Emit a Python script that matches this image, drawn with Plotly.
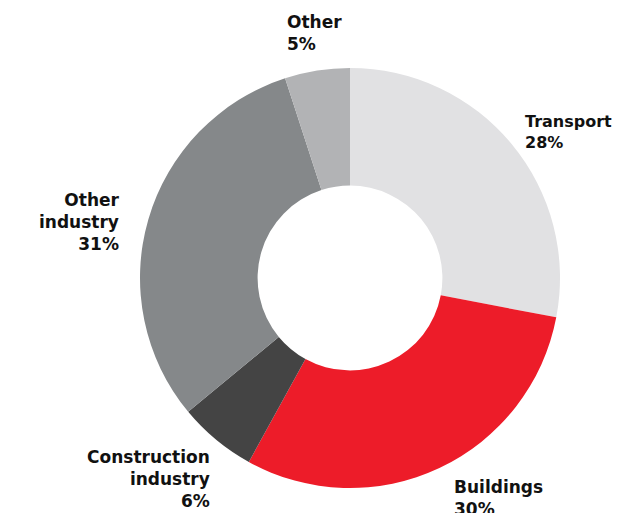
import plotly.graph_objects as go

categories = ["Transport", "Buildings", "Construction industry", "Other industry", "Other"]
values = [28, 30, 6, 31, 5]
label_texts = ["Transport<br>28%", "Buildings<br>30%", "Construction<br>industry<br>6%",
               "Other<br>industry<br>31%", "Other<br>5%"]
colors = ["#e1e1e3", "#ed1c29", "#444444", "#85888a", "#b2b3b5"]

OFF = 8  # page body margin
W, H = 622 - OFF, 513 - OFF
cx, cy, R = 350 - OFF, 278 - OFF, 210

fig = go.Figure(go.Pie(
    labels=categories, values=values, hole=0.44, sort=False, direction="clockwise",
    rotation=0, marker=dict(colors=colors, line=dict(width=0)), textinfo="none",
    hoverinfo="label+percent",
    domain=dict(x=[(cx - R) / W, (cx + R) / W], y=[(H - cy - R) / H, (H - cy + R) / H]),
))

# label anchor positions (reference pixels): x, y of top, alignment, font size
label_pos = [
    (523, 110, "left", 16),
    (452, 475, "left", 17),
    (212, 445, "right", 17),
    (122, 188, "right", 17),
    (285, 10, "left", 17),
]
anns = []
for txt, (x, y, al, fs) in zip(label_texts, label_pos):
    anns.append(dict(
        x=(x - OFF) / W, y=1 - (y - OFF) / H, xref="paper", yref="paper", text=txt,
        showarrow=False, xanchor=al, yanchor="top", align=al,
        font=dict(family="DejaVu Sans", size=fs, color="#111111", weight="bold"),
    ))

fig.update_layout(
    width=W, height=H, margin=dict(l=0, r=0, t=0, b=0), showlegend=False,
    paper_bgcolor="white", plot_bgcolor="white", annotations=anns,
)
fig.write_html("out.html")
